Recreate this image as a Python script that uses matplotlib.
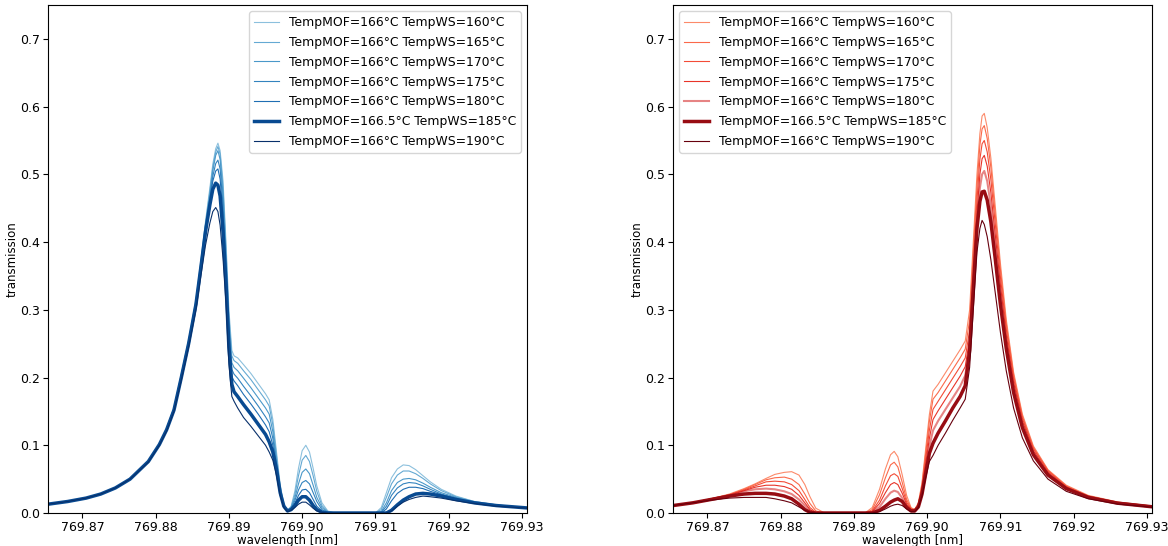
import matplotlib
matplotlib.use("Agg")
import matplotlib.pyplot as plt

# ---------------- data ----------------
labels = ["TempMOF=166°C TempWS=160°C", "TempMOF=166°C TempWS=165°C",
          "TempMOF=166°C TempWS=170°C", "TempMOF=166°C TempWS=175°C",
          "TempMOF=166°C TempWS=180°C", "TempMOF=166.5°C TempWS=185°C",
          "TempMOF=166°C TempWS=190°C"]

blue_wl = [769.8653, 769.8680, 769.8705, 769.8725, 769.8745, 769.8765, 769.8790, 769.8805,
           769.8815, 769.8825, 769.8835, 769.8845, 769.8855, 769.8862, 769.8868, 769.8874,
           769.8878, 769.8882, 769.8885, 769.8888, 769.8892, 769.8896, 769.8900, 769.8904,
           769.8907, 769.8912, 769.8920, 769.8930, 769.8940, 769.8950, 769.8955, 769.8960,
           769.8965, 769.8970, 769.8975, 769.8980, 769.8985, 769.8990, 769.8995, 769.9000,
           769.9005, 769.9010, 769.9015, 769.9020, 769.9027, 769.9035, 769.9045, 769.9100,
           769.9108, 769.9115, 769.9122, 769.9130, 769.9138, 769.9146, 769.9155, 769.9165,
           769.9175, 769.9190, 769.9210, 769.9235, 769.9265, 769.9307]

blue_160 = [0.013, 0.017, 0.022, 0.028, 0.037, 0.050, 0.076, 0.102, 0.125, 0.155, 0.205, 0.255,
            0.315, 0.375, 0.430, 0.480, 0.515, 0.538, 0.546, 0.535, 0.490, 0.400, 0.300, 0.240, 0.232,
            0.229, 0.219, 0.206, 0.191, 0.176, 0.167, 0.138, 0.090, 0.042, 0.013,
            0.004, 0.010, 0.032, 0.066, 0.092, 0.100, 0.090, 0.066, 0.040, 0.015, 0.003, 0.0,
            0.0, 0.008, 0.030, 0.052, 0.065, 0.071, 0.070, 0.064, 0.055, 0.046, 0.035, 0.025, 0.017, 0.012, 0.0078]
blue_165 = [0.013, 0.017, 0.022, 0.028, 0.037, 0.050, 0.076, 0.102, 0.125, 0.155, 0.204, 0.254,
            0.313, 0.372, 0.427, 0.475, 0.510, 0.533, 0.541, 0.530, 0.480, 0.390, 0.290, 0.232, 0.225,
            0.221, 0.210, 0.197, 0.182, 0.167, 0.158, 0.130, 0.084, 0.039, 0.012,
            0.004, 0.009, 0.027, 0.055, 0.078, 0.085, 0.076, 0.055, 0.032, 0.011, 0.002, 0.0,
            0.0, 0.005, 0.023, 0.043, 0.056, 0.062, 0.062, 0.058, 0.051, 0.043, 0.033, 0.024, 0.017, 0.012, 0.0078]
blue_170 = [0.013, 0.017, 0.022, 0.028, 0.037, 0.050, 0.076, 0.102, 0.124, 0.154, 0.203, 0.253,
            0.312, 0.370, 0.424, 0.470, 0.505, 0.528, 0.535, 0.522, 0.470, 0.380, 0.280, 0.222, 0.215,
            0.210, 0.199, 0.185, 0.170, 0.155, 0.146, 0.120, 0.078, 0.036, 0.011,
            0.003, 0.008, 0.022, 0.043, 0.060, 0.065, 0.058, 0.041, 0.023, 0.008, 0.001, 0.0,
            0.0, 0.002, 0.015, 0.033, 0.045, 0.050, 0.051, 0.049, 0.044, 0.038, 0.030, 0.023, 0.016, 0.011, 0.0077]
blue_175 = [0.013, 0.017, 0.022, 0.028, 0.037, 0.050, 0.076, 0.101, 0.124, 0.154, 0.202, 0.252,
            0.311, 0.369, 0.421, 0.465, 0.497, 0.516, 0.521, 0.508, 0.455, 0.370, 0.270, 0.212, 0.205,
            0.199, 0.187, 0.173, 0.158, 0.142, 0.133, 0.110, 0.073, 0.034, 0.011,
            0.003, 0.007, 0.018, 0.034, 0.045, 0.048, 0.043, 0.030, 0.017, 0.005, 0.001, 0.0,
            0.0, 0.001, 0.010, 0.026, 0.037, 0.043, 0.045, 0.044, 0.040, 0.035, 0.028, 0.022, 0.016, 0.011, 0.0077]
blue_180 = [0.013, 0.017, 0.022, 0.028, 0.037, 0.050, 0.076, 0.101, 0.123, 0.153, 0.201, 0.251,
            0.310, 0.367, 0.418, 0.460, 0.490, 0.505, 0.508, 0.493, 0.440, 0.355, 0.260, 0.201, 0.195,
            0.188, 0.175, 0.161, 0.146, 0.130, 0.120, 0.100, 0.068, 0.032, 0.010,
            0.003, 0.006, 0.014, 0.026, 0.034, 0.035, 0.030, 0.020, 0.010, 0.003, 0.0, 0.0,
            0.0, 0.0, 0.006, 0.018, 0.029, 0.035, 0.038, 0.038, 0.036, 0.032, 0.027, 0.021, 0.015, 0.011, 0.0076]
blue_185 = [0.013, 0.017, 0.022, 0.028, 0.037, 0.050, 0.076, 0.101, 0.123, 0.152, 0.200, 0.250,
            0.308, 0.365, 0.415, 0.455, 0.478, 0.487, 0.484, 0.468, 0.415, 0.340, 0.245, 0.190, 0.179,
            0.172, 0.160, 0.146, 0.131, 0.116, 0.105, 0.090, 0.064, 0.030, 0.010,
            0.003, 0.005, 0.011, 0.019, 0.024, 0.024, 0.019, 0.011, 0.005, 0.001, 0.0, 0.0,
            0.0, 0.0, 0.0, 0.004, 0.012, 0.019, 0.024, 0.028, 0.029, 0.028, 0.025, 0.020, 0.015, 0.011, 0.0075]
blue_190 = [0.013, 0.017, 0.022, 0.028, 0.037, 0.050, 0.075, 0.100, 0.121, 0.150, 0.196, 0.245,
            0.300, 0.352, 0.395, 0.428, 0.445, 0.451, 0.445, 0.425, 0.375, 0.310, 0.220, 0.172, 0.165,
            0.155, 0.141, 0.128, 0.114, 0.100, 0.090, 0.078, 0.055, 0.026, 0.008,
            0.002, 0.004, 0.008, 0.013, 0.016, 0.016, 0.012, 0.007, 0.003, 0.001, 0.0, 0.0,
            0.0, 0.0, 0.0, 0.003, 0.010, 0.016, 0.020, 0.023, 0.025, 0.024, 0.022, 0.018, 0.014, 0.010, 0.0072]

red_wl = [769.8653, 769.8680, 769.8705, 769.8730, 769.8750, 769.8765, 769.8780, 769.8792,
          769.8805, 769.8815, 769.8825, 769.8833, 769.8840, 769.8848, 769.8860,
          769.8915, 769.8925, 769.8935, 769.8943, 769.8950, 769.8955, 769.8960, 769.8966,
          769.8972, 769.8978, 769.8983, 769.8988, 769.8993, 769.8998, 769.9003, 769.9008,
          769.9015, 769.9025, 769.9035, 769.9045, 769.9052,
          769.9058, 769.9063, 769.9068, 769.9072, 769.9075, 769.9078, 769.9082, 769.9087,
          769.9093, 769.9100, 769.9108, 769.9118, 769.9130, 769.9145, 769.9165, 769.9190,
          769.9220, 769.9260, 769.9307]

red_160 = [0.011, 0.015, 0.021, 0.028, 0.036, 0.043, 0.051, 0.057, 0.060, 0.061, 0.056, 0.042, 0.024, 0.007, 0.0,
           0.0, 0.008, 0.035, 0.065, 0.086, 0.091, 0.083, 0.056, 0.026, 0.008, 0.005, 0.015, 0.045, 0.095, 0.145, 0.180,
           0.190, 0.207, 0.224, 0.241, 0.254,
           0.300, 0.400, 0.500, 0.560, 0.586, 0.590, 0.569, 0.524, 0.453, 0.369, 0.286, 0.208, 0.146, 0.099,
           0.064, 0.041, 0.026, 0.0163, 0.0104]
red_165 = [0.011, 0.015, 0.021, 0.027, 0.035, 0.042, 0.049, 0.052, 0.053, 0.050, 0.042, 0.028, 0.014, 0.003, 0.0,
           0.0, 0.005, 0.027, 0.052, 0.071, 0.075, 0.068, 0.045, 0.020, 0.007, 0.005, 0.014, 0.042, 0.088, 0.135, 0.168,
           0.178, 0.195, 0.212, 0.229, 0.242,
           0.285, 0.385, 0.482, 0.543, 0.567, 0.572, 0.553, 0.510, 0.441, 0.360, 0.280, 0.204, 0.143, 0.097,
           0.063, 0.040, 0.025, 0.016, 0.0102]
red_170 = [0.011, 0.015, 0.021, 0.027, 0.034, 0.040, 0.046, 0.047, 0.046, 0.042, 0.033, 0.020, 0.008, 0.001, 0.0,
           0.0, 0.003, 0.019, 0.040, 0.055, 0.058, 0.054, 0.036, 0.016, 0.006, 0.004, 0.012, 0.038, 0.080, 0.122, 0.153,
           0.165, 0.182, 0.199, 0.216, 0.229,
           0.270, 0.365, 0.462, 0.522, 0.545, 0.550, 0.533, 0.492, 0.427, 0.349, 0.272, 0.199, 0.140, 0.095,
           0.062, 0.039, 0.025, 0.0155, 0.0100]
red_175 = [0.011, 0.015, 0.020, 0.026, 0.033, 0.038, 0.041, 0.041, 0.039, 0.035, 0.026, 0.015, 0.005, 0.0, 0.0,
           0.0, 0.002, 0.014, 0.030, 0.042, 0.045, 0.042, 0.029, 0.013, 0.005, 0.004, 0.011, 0.035, 0.073, 0.110, 0.138,
           0.151, 0.168, 0.185, 0.202, 0.216,
           0.258, 0.350, 0.443, 0.500, 0.523, 0.528, 0.512, 0.473, 0.411, 0.337, 0.263, 0.193, 0.136, 0.092,
           0.060, 0.038, 0.024, 0.015, 0.0098]
red_180 = [0.011, 0.015, 0.020, 0.026, 0.032, 0.035, 0.036, 0.035, 0.032, 0.028, 0.020, 0.011, 0.003, 0.0, 0.0,
           0.0, 0.001, 0.009, 0.021, 0.030, 0.033, 0.031, 0.022, 0.010, 0.004, 0.004, 0.010, 0.032, 0.066, 0.098, 0.122,
           0.136, 0.153, 0.170, 0.187, 0.203,
           0.245, 0.335, 0.425, 0.480, 0.500, 0.505, 0.490, 0.453, 0.394, 0.324, 0.254, 0.187, 0.132, 0.090,
           0.058, 0.037, 0.024, 0.015, 0.0095]
red_185 = [0.011, 0.015, 0.020, 0.025, 0.028, 0.029, 0.029, 0.028, 0.025, 0.021, 0.013, 0.005, 0.001, 0.0, 0.0,
           0.0, 0.0, 0.004, 0.010, 0.016, 0.019, 0.021, 0.017, 0.008, 0.003, 0.003, 0.009, 0.028, 0.058, 0.088, 0.103,
           0.118, 0.136, 0.155, 0.172, 0.188,
           0.240, 0.330, 0.420, 0.460, 0.474, 0.475, 0.462, 0.430, 0.375, 0.308, 0.243, 0.178, 0.126, 0.086,
           0.056, 0.036, 0.023, 0.0145, 0.0092]
red_190 = [0.011, 0.015, 0.019, 0.022, 0.023, 0.023, 0.023, 0.021, 0.018, 0.015, 0.009, 0.004, 0.001, 0.0, 0.0,
           0.0, 0.0, 0.002, 0.006, 0.010, 0.012, 0.013, 0.011, 0.006, 0.002, 0.002, 0.008, 0.025, 0.052, 0.076, 0.085,
           0.100, 0.118, 0.137, 0.155, 0.168,
           0.215, 0.300, 0.385, 0.420, 0.432, 0.426, 0.408, 0.374, 0.325, 0.267, 0.210, 0.155, 0.111, 0.077,
           0.050, 0.032, 0.021, 0.0132, 0.0085]

blue_series = [blue_160, blue_165, blue_170, blue_175, blue_180, blue_185, blue_190]
red_series = [red_160, red_165, red_170, red_175, red_180, red_185, red_190]

# ---------------- style ----------------
blue_levels = [0.42, 0.52, 0.60, 0.68, 0.76, 0.90, 1.0]
red_levels = [0.40, 0.50, 0.58, 0.65, 0.72, 0.90, 1.0]
widths = [0.8, 0.8, 0.8, 0.8, 0.8, 2.5, 0.8]
red_alpha = [1, 1, 1, 1, 0.55, 1, 1]
red_widths = [0.8, 0.8, 0.8, 0.8, 1.5, 2.5, 0.8]

fig = plt.figure(figsize=(11.68, 5.46), dpi=100)
ax1 = fig.add_axes([48 / 1168, 33 / 546, 479 / 1168, 508 / 546])
ax2 = fig.add_axes([673 / 1168, 33 / 546, 479 / 1168, 508 / 546])

for ys, lab, lev, lw in zip(blue_series, labels, blue_levels, widths):
    ax1.plot(blue_wl, ys, color=plt.cm.Blues(lev), lw=lw, label=lab)
for ys, lab, lev, lw, al in zip(red_series, labels, red_levels, red_widths, red_alpha):
    ax2.plot(red_wl, ys, color=plt.cm.Reds(lev), lw=lw, alpha=al, label=lab)

for ax, loc in ((ax1, "upper right"), (ax2, "upper left")):
    ax.set_xlim(769.8653, 769.9307)
    ax.set_ylim(0, 0.75)
    ax.set_xticks([769.87, 769.88, 769.89, 769.90, 769.91, 769.92, 769.93])
    ax.set_xticklabels(["769.87", "769.88", "769.89", "769.90", "769.91", "769.92", "769.93"])
    ax.tick_params(labelsize=9, pad=2)
    ax.set_xlabel("wavelength [nm]", fontsize=8.5, labelpad=0.5)
    ax.set_ylabel("transmission", fontsize=8.5, labelpad=1)
    ax.legend(loc=loc, fontsize=8.9, handlelength=2.0, labelspacing=0.55,
              borderaxespad=0.5)

fig.savefig("out.png", dpi=100)
